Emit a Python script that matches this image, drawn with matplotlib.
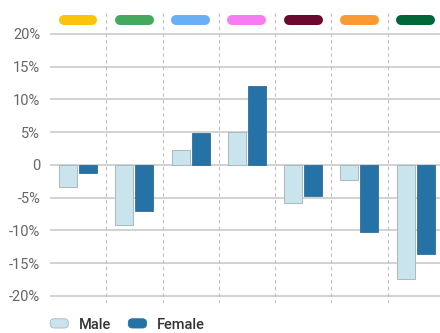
import numpy as np
import matplotlib.pyplot as plt
from matplotlib.patches import Patch, FancyBboxPatch
from matplotlib.legend_handler import HandlerPatch

plt.rcParams['font.family'] = ['Roboto', 'DejaVu Sans']

# percent change by group
male = [-3.4, -9.2, 2.3, 5.0, -5.8, -2.3, -17.4]
female = [-1.3, -7.1, 4.9, 12.0, -4.7, -10.2, -13.6]
group_colors = ['#fcc30b', '#45a85e', '#6aaef5', '#f77cf2', '#6b0a2e', '#fb9a32', '#006838']
yticks = [20, 15, 10, 5, 0, -5, -10, -15, -20]
ytick_labels = ['20%', '15%', '10%', '5%', '0', '-5%', '-10%', '-15%', '-20%']

male_color = '#c9e4ec'
female_color = '#2472a6'


class RoundBoxHandler(HandlerPatch):
    # legend swatch drawn as a rounded box
    def create_artists(self, legend, orig_handle, xdescent, ydescent,
                       width, height, fontsize, trans):
        p = FancyBboxPatch((-xdescent, -ydescent), width, height,
                           boxstyle='round,pad=0,rounding_size=3',
                           facecolor=orig_handle.get_facecolor(),
                           edgecolor=orig_handle.get_edgecolor(),
                           linewidth=0.6, transform=trans)
        return [p]


fig = plt.figure(figsize=(4.4, 3.33), dpi=100)
ax = fig.add_axes([50 / 440, 1 - 303 / 333, 390 / 440, 290 / 333])

x = np.arange(len(male))
w = 0.32
ax.bar(x - 0.18, male, w, color=male_color, edgecolor='#a9b9bf', linewidth=0.7, zorder=3)
ax.bar(x + 0.175, female, w, color=female_color, edgecolor='#1d5f8c', linewidth=0.5, zorder=3)

# horizontal grid at each tick
for t in yticks:
    ax.axhline(t, color='#cfcfcf', linewidth=1.3, zorder=1)

# dashed separators between groups
for b in x[:-1] + 0.5:
    ax.axvline(b, color='#bdbdbd', linewidth=0.8, linestyle=(0, (3, 3)), zorder=1)

# colored pills above each group
for i, c in enumerate(group_colors):
    ax.plot([i - 0.26, i + 0.254], [22.1, 22.1], color=c, linewidth=7.2,
            solid_capstyle='round', zorder=4, clip_on=False)

ax.set_xlim(-0.5, 6.43)
ax.set_ylim(-21.1, 23.2)
ax.set_yticks(yticks)
ax.set_yticklabels(ytick_labels)
ax.set_xticks([])
ax.tick_params(axis='y', length=0, pad=7, labelsize=10.5, labelcolor='#666666')
for s in ax.spines.values():
    s.set_visible(False)

handles = [Patch(facecolor=male_color, edgecolor='#a9b9bf', label='Male'),
           Patch(facecolor=female_color, edgecolor=female_color, label='Female')]
fig.legend(handles=handles, loc='lower left', bbox_to_anchor=(37 / 440, -0.035),
           ncol=2, frameon=False, handlelength=1.25, handleheight=0.6,
           columnspacing=1.2, handletextpad=0.7,
           handler_map={Patch: RoundBoxHandler()},
           prop={'size': 10.5, 'weight': 'medium'}, labelcolor='#333333')

fig.savefig('out.png', dpi=100)
